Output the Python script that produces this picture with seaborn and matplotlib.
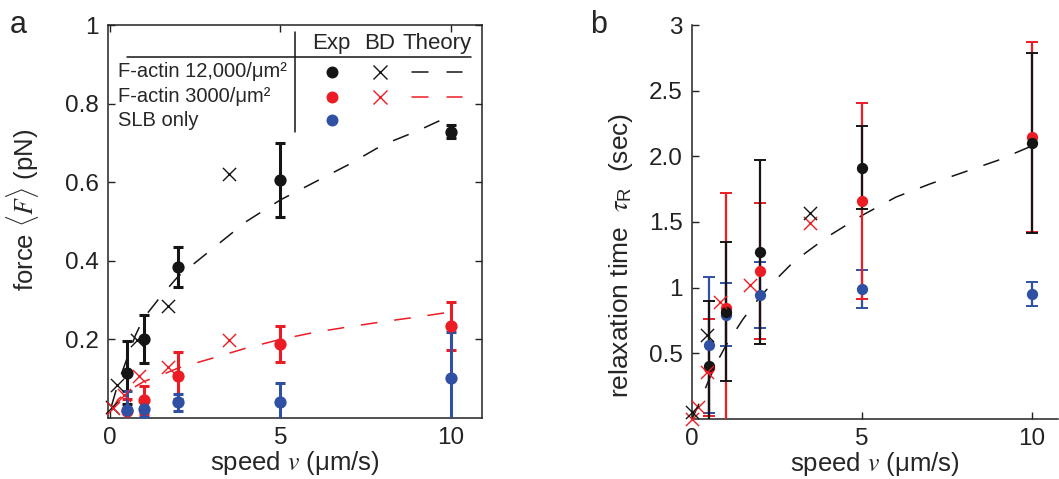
import numpy as np
import matplotlib
matplotlib.use("Agg")
import matplotlib.pyplot as plt
import seaborn as sns

# ---------------- data ----------------
speed_exp = [0.5, 1, 2, 5, 10]

# panel a: force <F> (pN)
force_f12000 = [0.115, 0.201, 0.384, 0.606, 0.729]
force_f12000_err = [0.08, 0.06, 0.05, 0.095, 0.016]
force_f3000 = [0.018, 0.046, 0.108, 0.188, 0.234]
force_f3000_err = [0.03, 0.035, 0.06, 0.046, 0.062]
force_slb = [0.02, 0.023, 0.04, 0.04, 0.103]
force_slb_err = [0.05, 0.02, 0.022, 0.048, 0.115]

bd_force_f12000_x = [0.06, 0.21, 0.8, 1.72, 3.48]
bd_force_f12000 = [0.029, 0.084, 0.199, 0.284, 0.622]
bd_force_f3000_x = [0.1, 0.43, 0.87, 1.72, 3.48]
bd_force_f3000 = [0.025, 0.058, 0.108, 0.129, 0.199]

theory_force_x = [0.05, 0.25, 0.5, 0.75, 1, 1.5, 2, 3, 4, 5, 6, 7, 8, 9, 10]
theory_force_f12000 = [0.03, 0.09, 0.15, 0.21, 0.255, 0.31, 0.36, 0.43, 0.50, 0.555,
                       0.60, 0.645, 0.695, 0.73, 0.77]
theory_force_f3000 = [0.02, 0.048, 0.065, 0.08, 0.093, 0.109, 0.127, 0.152, 0.178, 0.20,
                      0.218, 0.232, 0.245, 0.257, 0.27]

# panel b: relaxation time tau_R (sec)
tau_f12000 = [0.40, 0.817, 1.274, 1.914, 2.10]
tau_f12000_err = [0.50, 0.53, 0.70, 0.317, 0.685]
tau_f3000 = [0.39, 0.843, 1.127, 1.66, 2.148]
tau_f3000_err = [0.37, 0.876, 0.517, 0.745, 0.725]
tau_slb = [0.564, 0.792, 0.944, 0.99, 0.952]
tau_slb_err = [0.515, 0.24, 0.255, 0.142, 0.092]

bd_tau_f12000_x = [0.0, 0.43, 3.47]
bd_tau_f12000 = [0.056, 0.64, 1.566]
bd_tau_f3000_x = [0.0, 0.19, 0.43, 0.82, 1.71, 3.47]
bd_tau_f3000 = [0.0, 0.094, 0.36, 0.89, 1.02, 1.49]

theory_tau_x = [0.0, 0.25, 0.5, 0.75, 1, 1.5, 2, 2.5, 3, 4, 5, 6, 7, 8, 9, 10]
theory_tau = [0.0, 0.14, 0.30, 0.44, 0.56, 0.76, 0.93, 1.07, 1.20, 1.39, 1.55, 1.69,
              1.79, 1.88, 1.97, 2.08]

force_yticks = [0.2, 0.4, 0.6, 0.8, 1]
force_yticklabels = ["0.2", "0.4", "0.6", "0.8", "1"]
tau_yticks = [0.5, 1, 1.5, 2.0, 2.5, 3]
tau_yticklabels = ["0.5", "1", "1.5", "2.0", "2.5", "3"]
xticks = [0, 5, 10]
legend_rows = ["F-actin 12,000/\u03bcm\u00b2", "F-actin 3000/\u03bcm\u00b2", "SLB only"]
legend_header = ["Exp", "BD", "Theory"]

# ---------------- style ----------------
sns.set_style("ticks")
plt.rcParams["font.family"] = ["Liberation Sans", "DejaVu Sans"]
plt.rcParams["mathtext.fontset"] = "custom"
plt.rcParams["mathtext.it"] = "STIXGeneral:italic"
plt.rcParams["mathtext.rm"] = "Liberation Sans"
plt.rcParams["mathtext.cal"] = "STIXGeneral:italic"

BLACK = "#151515"
RED = "#ec1c24"
BLUE = "#2f50a3"
DASH = (0, (11, 11))
TICK_FS = 17.5
LABEL_FS = 18.5

fig = plt.figure(figsize=(10.59, 4.79), dpi=100)
axA = fig.add_axes([0.102, 0.1273, 0.353, 0.8205])
axB = fig.add_axes([0.6534, 0.1253, 0.3456, 0.8225])

# ---------------- panel a ----------------
for yv, ye, c in [(force_f12000, force_f12000_err, BLACK),
                  (force_f3000, force_f3000_err, RED),
                  (force_slb, force_slb_err, BLUE)]:
    axA.errorbar(speed_exp, yv, yerr=ye, fmt="none", ecolor=c, elinewidth=2.2,
                 capsize=3.6, capthick=2.2, zorder=3)
    sns.scatterplot(x=speed_exp, y=yv, ax=axA, color=c, s=78, edgecolor=c,
                    linewidth=0, zorder=4, clip_on=False)

sns.lineplot(x=theory_force_x, y=theory_force_f12000, ax=axA, color=BLACK, lw=1.1,
             linestyle=DASH, sort=False, estimator=None, zorder=2)
sns.lineplot(x=theory_force_x, y=theory_force_f3000, ax=axA, color=RED, lw=1.1,
             linestyle=DASH, sort=False, estimator=None, zorder=2)
sns.scatterplot(x=bd_force_f12000_x, y=bd_force_f12000, ax=axA, marker="x",
                color=BLACK, s=90, linewidth=1.0, zorder=5, clip_on=False)
sns.scatterplot(x=bd_force_f3000_x, y=bd_force_f3000, ax=axA, marker="x",
                color=RED, s=90, linewidth=1.0, zorder=5, clip_on=False)

axA.set_xlim(-0.05, 10.9)
axA.set_ylim(0, 1)
axA.set_xticks(xticks)
axA.set_xticklabels([str(t) for t in xticks])
axA.set_yticks(force_yticks)
axA.set_yticklabels(force_yticklabels)
axA.tick_params(direction="in", top=True, right=True, length=5, width=1,
                labelsize=TICK_FS, pad=6.5, colors="#222222")
for s in axA.spines.values():
    s.set_linewidth(1.1)
    s.set_color("#222222")
axA.set_xlabel(r"speed $v$ (μm/s)", fontsize=LABEL_FS, labelpad=0)
axA.set_ylabel(r"force $\langle F\rangle$ (pN)", fontsize=LABEL_FS)
axA.yaxis.set_label_coords(-0.178, 0.53)

# table-like legend (axes-fraction layout)
T = axA.transAxes
ty = 0.954
for txt, xc in zip(legend_header, [0.596, 0.727, 0.881]):
    axA.text(xc, ty, txt, transform=T, ha="center", va="center", fontsize=16)
axA.plot([0.05, 0.972], [0.919, 0.919], transform=T, color=BLACK, lw=1.1)
axA.plot([0.5, 0.5], [0.728, 0.982], transform=T, color=BLACK, lw=1.1)
row_y = [0.881, 0.818, 0.758]
row_c = [BLACK, RED, BLUE]
for i, (lab, yy, c) in enumerate(zip(legend_rows, row_y, row_c)):
    axA.text(0.028, yy, lab, transform=T, ha="left", va="center", fontsize=14.5)
    axA.plot([0.598], [yy], transform=T, marker="o", ms=8.6, color=c, mew=0)
    if i < 2:
        axA.plot([0.727], [yy], transform=T, marker="x", ms=9.5, color=c, mew=1.0)
        axA.plot([0.812, 0.856], [yy, yy], transform=T, color=c, lw=1.1)
        axA.plot([0.906, 0.948], [yy, yy], transform=T, color=c, lw=1.1)

# ---------------- panel b ----------------
for yv, ye, c in [(tau_slb, tau_slb_err, BLUE),
                  (tau_f3000, tau_f3000_err, RED),
                  (tau_f12000, tau_f12000_err, BLACK)]:
    axB.errorbar(speed_exp, yv, yerr=ye, fmt="none", ecolor=c, elinewidth=1.6,
                 capsize=4, capthick=1.4, zorder=3)
for yv, c in [(tau_slb, BLUE), (tau_f3000, RED), (tau_f12000, BLACK)]:
    sns.scatterplot(x=speed_exp, y=yv, ax=axB, color=c, s=66, edgecolor=c,
                    linewidth=0, zorder=4, clip_on=False)

sns.lineplot(x=theory_tau_x, y=theory_tau, ax=axB, color=BLACK, lw=1.1,
             linestyle=DASH, sort=False, estimator=None, zorder=2)
sns.scatterplot(x=bd_tau_f3000_x, y=bd_tau_f3000, ax=axB, marker="x",
                color=RED, s=90, linewidth=1.0, zorder=5, clip_on=False)
sns.scatterplot(x=bd_tau_f12000_x, y=bd_tau_f12000, ax=axB, marker="x",
                color=BLACK, s=90, linewidth=1.0, zorder=5, clip_on=False)

axB.set_xlim(0, 10.76)
axB.set_ylim(0, 3)
axB.set_xticks(xticks)
axB.set_xticklabels([str(t) for t in xticks])
axB.set_yticks(tau_yticks)
axB.set_yticklabels(tau_yticklabels)
axB.tick_params(direction="in", length=5, width=1, labelsize=TICK_FS, pad=6.5,
                colors="#222222")
sns.despine(ax=axB)
for s in ["left", "bottom"]:
    axB.spines[s].set_linewidth(1.1)
    axB.spines[s].set_color("#222222")
axB.set_xlabel(r"speed $v$ (μm/s)", fontsize=LABEL_FS, labelpad=0)
axB.set_ylabel(r"relaxation time  $\tau_{\mathrm{R}}$  (sec)", fontsize=19)
axB.yaxis.set_label_coords(-0.156, 0.415)

# panel letters
fig.text(0.009, 0.931, "a", fontsize=22, va="baseline", ha="left")
fig.text(0.557, 0.931, "b", fontsize=22, va="baseline", ha="left")

fig.savefig("out.png", dpi=100)
